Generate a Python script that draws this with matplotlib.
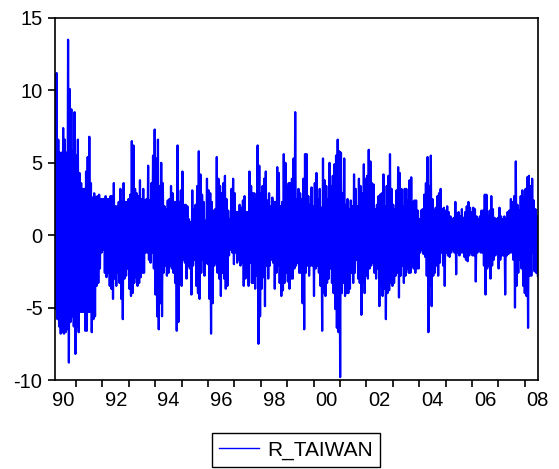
import numpy as np
import matplotlib
matplotlib.use("Agg")
import matplotlib.pyplot as plt
from matplotlib.ticker import FixedLocator, FixedFormatter, NullFormatter

plt.rcParams['font.family'] = ['Liberation Sans', 'DejaVu Sans']
plt.rcParams['axes.unicode_minus'] = False

# daily returns, read as alternating local highs / lows (percent)
peaks = [
    4.8, 11.2, 6.6, 5.7, 5.7, 7.4, 6.6, 5.7, 13.5, 10.1, 8.7, 5.8, 8.5, 5.5, 6.6, 4.3,
    3.6, 3.2, 3.2, 4.4, 5.4, 6.8, 3.6, 2.6, 2.9, 2.6, 2.7, 2.8, 2.5, 2.5, 2.5, 2.7,
    2.5, 2.5, 2.7, 2.7, 3.6, 2.0, 2.0, 2.3, 3.2, 2.3, 3.6, 2.3, 2.3, 2.5, 2.8, 6.5,
    6.2, 3.2, 2.9, 2.7, 3.8, 2.5, 3.2, 2.4, 2.5, 4.8, 2.4,
    3.6, 5.5, 7.3, 5.3, 6.6, 3.4, 5.0, 3.6, 2.0, 1.8, 2.4, 2.5, 3.4, 2.9, 2.3, 2.3,
    6.2, 2.3, 3.1, 4.4, 2.1, 2.1, 2.0, 1.1, 0.9, 3.1, 1.8, 2.1, 3.4, 5.8, 4.2, 2.8,
    2.3, 1.0, 3.9, 3.1, 2.9, 2.3, 1.7, 1.8, 5.4, 3.9, 3.4, 2.9, 3.6, 4.1, 2.5, 1.7,
    1.1, 3.2, 3.9, 2.9, 1.6, 1.6, 2.1, 1.9, 2.4, 2.7, 1.6,
    1.6, 4.4, 3.4, 2.9, 2.9, 2.5, 6.2, 4.8, 2.9, 3.4, 3.9, 4.4, 2.4, 2.9, 2.0, 2.6,
    2.3, 2.3, 4.7, 4.3, 2.0, 2.3, 5.6, 5.0, 3.4, 3.6, 3.6, 3.9, 5.3, 8.5, 2.5, 3.2,
    2.9, 2.5, 3.9, 5.6, 5.6, 2.7, 2.1, 3.3, 2.0, 3.6, 4.3, 2.5, 3.2, 1.9, 5.3, 3.8,
    3.4, 2.5, 5.0, 3.4, 4.1, 4.9, 5.5, 6.6, 5.8, 5.7, 2.9,
    5.3, 2.1, 2.5, 1.8, 2.4, 2.0, 4.2, 3.2, 2.0, 3.9, 3.4, 2.9, 4.9, 3.9, 4.1, 5.9,
    5.1, 3.6, 3.5, 1.8, 2.1, 2.7, 2.8, 2.9, 4.2, 2.0, 3.4, 4.1, 5.6, 3.2, 2.1, 1.8,
    3.1, 4.7, 4.3, 3.2, 2.0, 3.2, 3.2, 2.4, 3.8, 4.0, 2.3, 2.4, 2.4, 1.7, 1.1, 1.7,
    1.8, 2.8, 3.6, 5.4, 3.4, 5.5, 2.5, 1.7, 1.9,
    2.7, 2.9, 3.2, 1.8, 1.9, 1.7, 2.0, 1.6, 1.3, 1.1, 1.2, 2.3, 1.5, 1.6, 1.3, 1.8,
    1.2, 1.6, 2.0, 2.3, 1.9, 1.6, 1.9, 1.8, 1.3, 1.1, 1.3, 1.7, 1.7, 2.8, 2.8, 1.3,
    1.7, 2.7, 1.8, 1.2, 1.1, 1.2, 1.9, 1.3, 1.1, 1.3, 1.1, 1.6, 1.7, 2.5, 2.3, 2.7,
    5.1, 2.1, 1.7, 2.7, 3.1, 2.6, 3.2, 4.0, 4.1, 3.4, 3.9, 2.4, 1.8, 1.3,
]
troughs = [
    -5.1, -5.8, -6.3, -6.8, -6.7, -6.8, -6.7, -6.5, -8.8, -6.0, -5.6, -6.3, -8.2, -6.3, -6.7, -5.3,
    -5.3, -5.3, -6.6, -6.6, -5.3, -5.3, -6.7, -5.8, -5.6, -3.5, -3.3, -2.3, -1.2, -1.0, -2.6, -2.9,
    -2.6, -3.5, -3.7, -4.4, -3.0, -3.5, -2.6, -3.3, -4.4, -5.8, -3.0, -2.8, -2.3, -3.7, -4.2, -4.0,
    -3.3, -2.9, -3.5, -3.3, -2.9, -2.6, -2.6, -1.2, -1.2, -1.7, -1.9,
    -1.2, -2.3, -4.1, -5.6, -6.5, -4.7, -5.6, -2.6, -2.1, -2.8, -2.6, -2.1, -2.3, -2.6, -3.3, -6.6,
    -6.0, -3.3, -3.5, -1.7, -1.9, -3.0, -2.1, -2.3, -4.1, -2.1, -1.7, -3.5, -4.0, -4.4, -2.6, -1.7,
    -2.8, -1.9, -2.0, -4.4, -6.8, -4.7, -2.1, -1.9, -2.6, -3.0, -4.2, -2.6, -3.0, -3.7, -3.5, -1.4,
    -1.0, -1.2, -2.0, -1.2, -1.9, -1.7, -2.1, -1.9, -3.5, -3.0, -2.6,
    -3.5, -1.9, -3.3, -3.3, -3.7, -2.8, -7.5, -5.6, -3.7, -2.9, -4.9, -2.1, -3.0, -2.1, -1.7, -1.9,
    -3.7, -2.6, -2.1, -3.3, -4.2, -3.8, -3.3, -2.6, -3.2, -3.7, -3.0, -3.0, -2.3, -2.1, -1.9, -2.6,
    -2.6, -4.7, -6.5, -2.6, -2.1, -2.8, -2.1, -2.1, -4.2, -2.3, -2.1, -2.6, -3.5, -6.6, -4.0, -4.2,
    -3.3, -3.0, -2.3, -3.3, -4.0, -5.1, -6.4, -6.7, -9.8, -4.0, -3.3,
    -4.2, -4.0, -4.0, -3.7, -2.6, -3.3, -2.6, -1.7, -3.0, -3.3, -5.5, -3.3, -4.0, -2.8, -3.0, -2.3,
    -2.1, -1.9, -2.6, -3.0, -2.3, -4.9, -3.5, -4.2, -3.7, -5.8, -4.0, -3.8, -3.3, -3.5, -3.3, -2.8,
    -2.6, -4.3, -2.8, -2.1, -3.3, -2.8, -2.3, -2.6, -2.6, -2.1, -2.3, -2.6, -2.3, -2.3, -1.2, -1.0,
    -1.3, -1.5, -2.8, -6.7, -3.5, -4.9, -2.8, -2.6, -2.1,
    -2.8, -1.9, -1.2, -2.1, -3.5, -1.2, -1.4, -1.5, -1.2, -1.0, -1.2, -2.7, -1.2, -1.4, -1.2, -1.2,
    -1.5, -1.7, -1.8, -1.4, -1.2, -1.4, -1.4, -3.2, -1.2, -1.0, -1.2, -1.2, -2.1, -4.1, -2.3, -2.1,
    -3.0, -2.1, -1.7, -1.4, -1.2, -2.3, -1.7, -1.4, -1.4, -4.1, -1.4, -1.3, -1.2, -1.2, -1.7, -5.0,
    -3.5, -2.6, -1.7, -2.3, -3.5, -4.0, -4.2, -6.4, -2.8, -2.8, -1.2, -2.5, -2.6, -2.8,
]
start_year, end_year = 1990.2, 2008.5
year_labels = ['90', '92', '94', '96', '98', '00', '02', '04', '06', '08']

n = min(len(peaks), len(troughs))
r_taiwan = np.empty(2 * n)
r_taiwan[0::2] = peaks[:n]
r_taiwan[1::2] = troughs[:n]
t = np.linspace(start_year, end_year, 2 * n)

fig = plt.figure(figsize=(5.59, 4.69), dpi=100)
ax = fig.add_axes([55 / 559, 1 - 380 / 469, 483 / 559, 362 / 469])
ax.plot(t, r_taiwan, color='#0000ff', lw=1.6, label='R_TAIWAN')

ax.set_xlim(start_year, end_year + 0.005)
ax.set_ylim(-10, 15)
ax.set_yticks([-10, -5, 0, 5, 10, 15])

# year boundaries carry the tick marks, labels sit mid-year
ax.xaxis.set_major_locator(FixedLocator(np.arange(1991, 2009)))
ax.xaxis.set_major_formatter(NullFormatter())
ax.xaxis.set_minor_locator(FixedLocator(np.arange(1990, 2009, 2) + 0.5))
ax.xaxis.set_minor_formatter(FixedFormatter(year_labels))

ax.tick_params(axis='both', which='major', direction='out', length=5, width=1.2,
               labelsize=14.5, colors='black')
ax.tick_params(axis='x', which='minor', length=0, pad=8, labelsize=14.5)
ax.tick_params(axis='y', which='major', pad=4)
for s in ax.spines.values():
    s.set_linewidth(1.2)

leg = fig.legend(loc='center', bbox_to_anchor=(296 / 559, 1 - 450 / 469), fontsize=15,
                 frameon=True, fancybox=False, edgecolor='black', framealpha=1,
                 handlelength=1.9, handletextpad=0.4, borderpad=0.35)
leg.get_frame().set_linewidth(1.0)
leg.get_lines()[0].set_linewidth(1.0)

fig.savefig('out.png', dpi=100)
